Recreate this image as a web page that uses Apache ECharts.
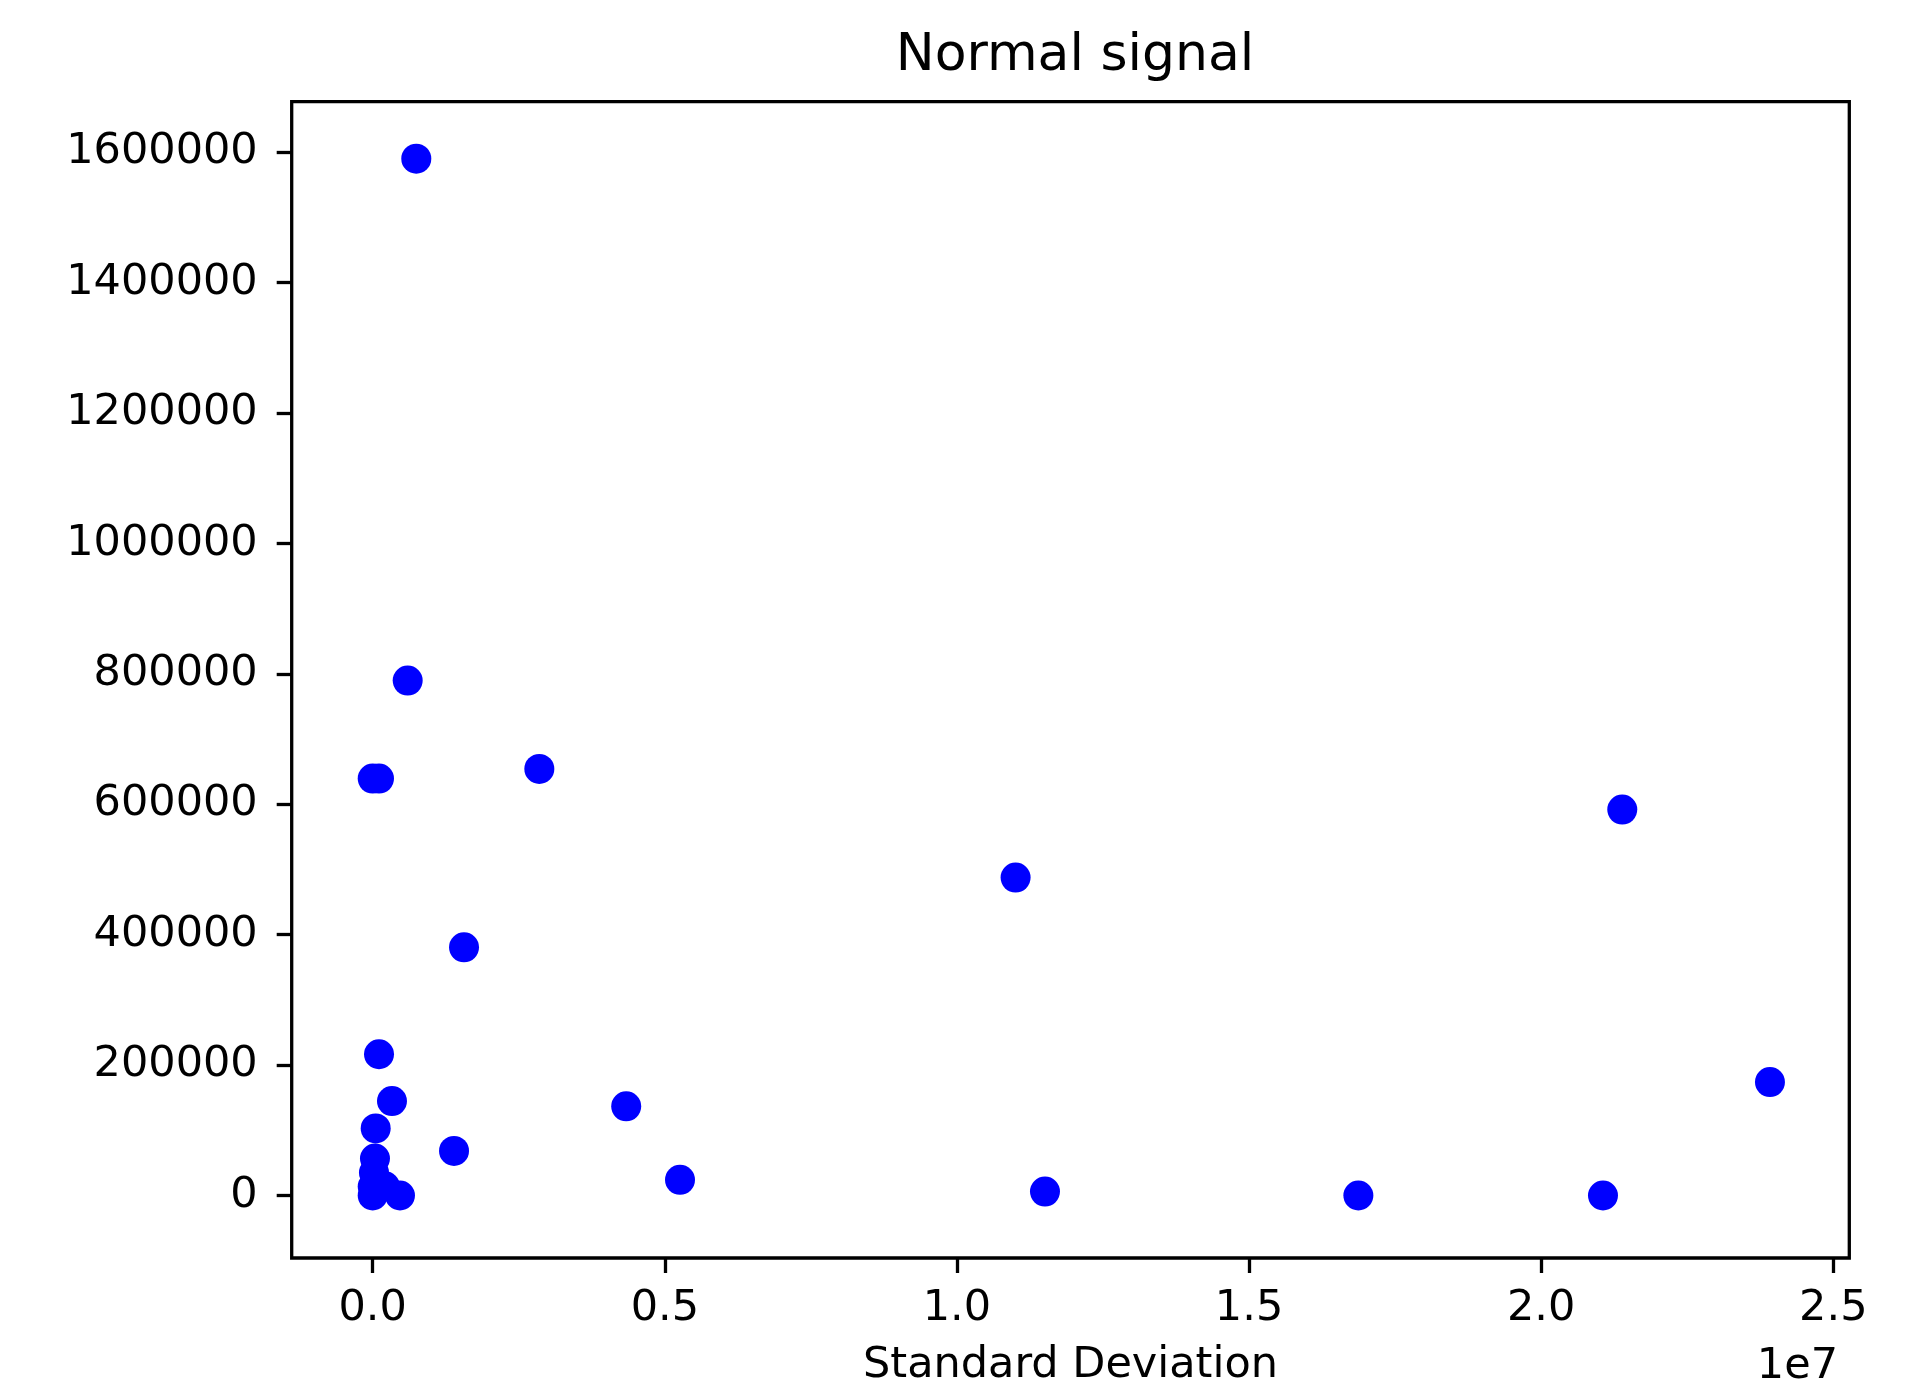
<!DOCTYPE html>
<html>
<head>
<meta charset="utf-8">
<script src="https://cdn.jsdelivr.net/npm/echarts@6/dist/echarts.min.js"></script>
<style>
html,body{margin:0;padding:0;background:#fff;}
#chart{width:1914px;height:1392px;}
</style>
</head>
<body>
<div id="chart"></div>
<script>
// Standard deviation (x) values
const xValues = [746000, 599000, 0, 108000, 2852000, 21388000, 11004000, 1563000, 108000, 23916000,
  330000, 4339000, 51000, 1392000, 39000, 22000, 0, 0, 210000, 467000,
  5260000, 11507000, 16871000, 21058000];
// y values
const yValues = [1590000, 789700, 639400, 639400, 654200, 591900, 487500, 380600, 216600, 174000,
  144800, 136700, 102900, 68300, 56600, 35000, 13800, 0, 14000, 0,
  24000, 6100, 0, 0];
const xTicks = [0, 5000000, 10000000, 15000000, 20000000, 25000000];
const yTicks = [0, 200000, 400000, 600000, 800000, 1000000, 1200000, 1400000, 1600000];
const titleText = 'Normal signal';
const xName = 'Standard Deviation';
const xOffsetText = '1e7';

const points = xValues.map((x, i) => [x, yValues[i]]);
const font = 'DejaVu Sans';
const chart = echarts.init(document.getElementById('chart'), null, {renderer: 'canvas'});
chart.setOption({
  animation: false,
  backgroundColor: '#ffffff',
  title: {
    text: titleText,
    left: 1070,
    textAlign: 'center',
    top: 25,
    textStyle: {fontFamily: font, fontSize: 52, fontWeight: 'normal', color: '#000'}
  },
  grid: {
    left: 291.7, right: 64.7, top: 101.7, bottom: 130.3,
    show: true, borderColor: '#000', borderWidth: 3.3, backgroundColor: 'transparent'
  },
  xAxis: {
    type: 'value',
    min: -1386400, max: 25274000,
    name: xName,
    nameLocation: 'middle',
    nameGap: 86,
    nameTextStyle: {fontFamily: font, fontSize: 43, color: '#000'},
    axisLine: {show: false, onZero: false},
    splitLine: {show: false},
    axisTick: {show: true, inside: false, length: 15, lineStyle: {color: '#000', width: 3.3}, customValues: xTicks},
    axisLabel: {
      customValues: xTicks,
      margin: 29,
      fontFamily: font, fontSize: 43, color: '#000',
      formatter: v => (v / 1e7).toFixed(1)
    }
  },
  yAxis: {
    type: 'value',
    min: -95845, max: 1677400,
    axisLine: {show: false, onZero: false},
    splitLine: {show: false},
    axisTick: {show: true, inside: false, length: 15, lineStyle: {color: '#000', width: 3.3}, customValues: yTicks},
    axisLabel: {
      customValues: yTicks,
      margin: 34,
      fontFamily: font, fontSize: 43, color: '#000',
      formatter: v => String(v)
    }
  },
  graphic: [{
    type: 'text',
    right: 76,
    top: 1345,
    style: {text: xOffsetText, fontFamily: font, fontSize: 43, fill: '#000'}
  }],
  series: [{
    type: 'scatter',
    data: points,
    symbol: 'circle',
    symbolSize: 30,
    itemStyle: {color: '#0000ff', opacity: 1}
  }]
});
</script>
</body>
</html>
